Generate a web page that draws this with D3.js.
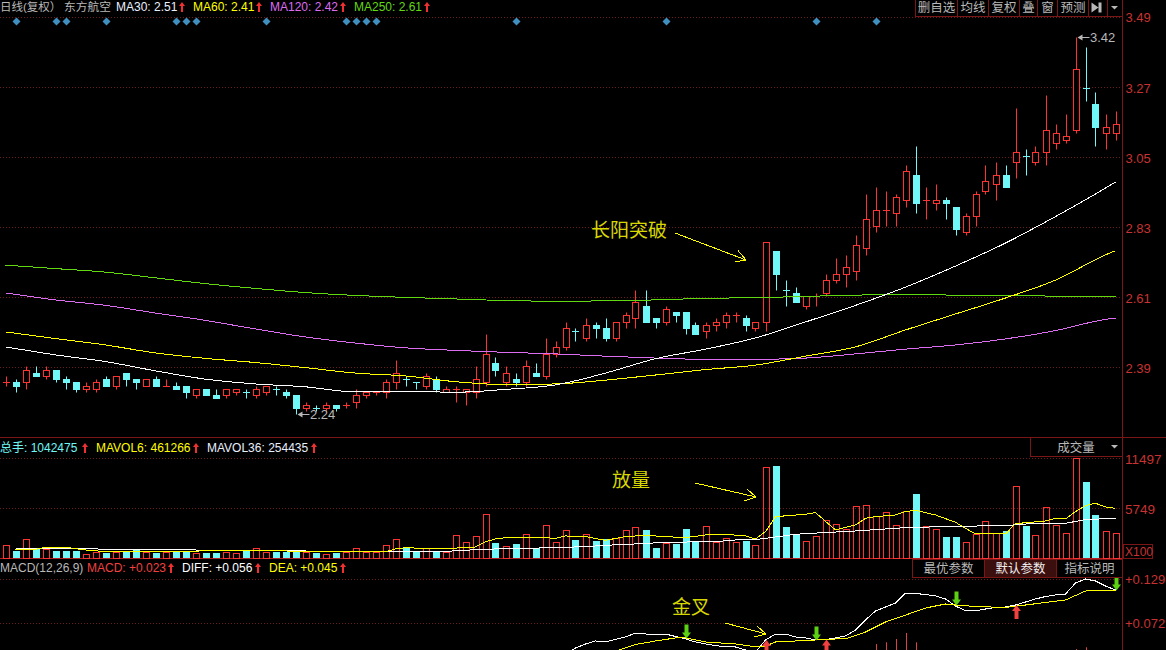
<!DOCTYPE html>
<html><head><meta charset="utf-8">
<script src="https://cdn.jsdelivr.net/npm/d3@7"></script>
<style>
html,body{margin:0;padding:0;background:#000;overflow:hidden}
svg{display:block}
text{font-family:"Liberation Sans","Noto Sans CJK SC",sans-serif}
</style></head><body>
<script>
const open=[2.34,2.34,2.34,2.37,2.36,2.38,2.35,2.34,2.32,2.32,2.35,2.33,2.37,2.35,2.33,2.35,2.33,2.33,2.33,2.30,2.32,2.30,2.30,2.31,2.31,2.30,2.31,2.32,2.31,2.30,2.26,2.26,2.26,2.27,2.27,2.28,2.30,2.31,2.31,2.34,2.35,2.34,2.33,2.35,2.31,2.32,2.31,2.31,2.34,2.40,2.34,2.35,2.34,2.37,2.36,2.43,2.45,2.50,2.48,2.52,2.51,2.48,2.53,2.54,2.58,2.54,2.53,2.56,2.56,2.52,2.50,2.52,2.53,2.55,2.54,2.51,2.53,2.75,2.63,2.62,2.58,2.61,2.62,2.66,2.68,2.69,2.76,2.83,2.88,2.87,2.91,2.99,2.91,2.90,2.91,2.89,2.81,2.86,2.94,2.96,2.99,3.03,3.05,3.03,3.06,3.09,3.10,3.13,3.26,3.21,3.12,3.12];
const close=[2.34,2.33,2.38,2.36,2.38,2.35,2.34,2.32,2.33,2.34,2.33,2.36,2.35,2.34,2.35,2.33,2.33,2.32,2.31,2.32,2.30,2.29,2.32,2.32,2.31,2.32,2.33,2.32,2.30,2.26,2.27,2.26,2.27,2.26,2.27,2.30,2.31,2.31,2.34,2.37,2.35,2.34,2.36,2.32,2.32,2.32,2.32,2.35,2.43,2.38,2.37,2.34,2.39,2.36,2.43,2.45,2.51,2.50,2.52,2.51,2.48,2.53,2.55,2.59,2.53,2.53,2.57,2.55,2.51,2.49,2.52,2.53,2.55,2.55,2.52,2.53,2.78,2.68,2.63,2.59,2.61,2.61,2.66,2.68,2.70,2.77,2.85,2.88,2.88,2.92,3.00,2.90,2.91,2.91,2.90,2.82,2.86,2.93,2.97,2.99,2.95,3.06,3.05,3.06,3.13,3.12,3.11,3.32,3.26,3.14,3.14,3.15];
const high=[2.36,2.35,2.39,2.39,2.39,2.38,2.36,2.34,2.34,2.35,2.36,2.36,2.37,2.35,2.35,2.36,2.35,2.34,2.33,2.32,2.32,2.32,2.32,2.32,2.32,2.33,2.33,2.33,2.32,2.30,2.28,2.27,2.28,2.27,2.28,2.32,2.31,2.31,2.35,2.41,2.36,2.34,2.37,2.36,2.33,2.33,2.32,2.39,2.49,2.42,2.39,2.37,2.41,2.40,2.48,2.47,2.53,2.51,2.54,2.53,2.54,2.53,2.56,2.63,2.63,2.54,2.58,2.56,2.56,2.53,2.53,2.54,2.56,2.56,2.55,2.53,2.78,2.75,2.66,2.64,2.61,2.62,2.68,2.73,2.74,2.80,2.93,2.95,2.94,2.93,3.02,3.08,2.95,2.96,2.92,2.89,2.87,2.94,3.02,3.03,3.02,3.20,3.07,3.08,3.24,3.15,3.18,3.42,3.39,3.25,3.18,3.19];
const low=[2.33,2.31,2.32,2.36,2.35,2.34,2.32,2.31,2.31,2.31,2.33,2.32,2.33,2.32,2.33,2.33,2.33,2.32,2.29,2.29,2.30,2.29,2.29,2.30,2.29,2.29,2.30,2.30,2.29,2.24,2.25,2.25,2.25,2.25,2.26,2.26,2.29,2.30,2.29,2.32,2.33,2.32,2.32,2.31,2.31,2.28,2.27,2.29,2.33,2.36,2.33,2.33,2.33,2.36,2.35,2.42,2.44,2.47,2.47,2.48,2.47,2.47,2.51,2.51,2.53,2.51,2.52,2.53,2.49,2.49,2.48,2.50,2.51,2.53,2.50,2.50,2.50,2.63,2.58,2.59,2.57,2.58,2.61,2.65,2.64,2.66,2.74,2.81,2.83,2.83,2.89,2.87,2.85,2.88,2.85,2.80,2.80,2.83,2.93,2.91,2.95,2.98,2.99,3.02,3.02,3.07,3.09,3.12,3.22,3.08,3.07,3.10];
const flatDownDays=[24,27,31,40,41,57,78,102,108];
const volume=[1495,840,2185,1070,1035,805,805,805,540,690,655,725,840,1000,770,610,770,770,770,610,610,610,770,575,885,1150,770,770,770,885,770,610,540,610,690,1150,690,690,1495,2185,1230,770,1230,770,690,2645,1840,2530,5060,1760,1380,1645,2760,1230,3795,1840,3220,2105,2760,1990,2220,2300,3220,3565,3255,1185,1725,1645,3370,1990,3680,1840,2300,1840,1990,1495,10465,10615,3600,2680,1955,2530,4370,3910,3335,5980,6095,4830,5290,3795,5405,7395,3680,3335,2450,2450,1840,2760,4255,2875,3140,8280,3715,2645,5865,3795,2875,11497,8775,4980,3105,2875];

const maSampleIdx=[0,5,10,15,20,25,30,35,40,45,50,55,60,65,70,75,80,85,90,95,100,105,110,111];
const ma30=[2.451,2.426,2.405,2.376,2.350,2.335,2.326,2.310,2.312,2.309,2.318,2.332,2.369,2.414,2.444,2.479,2.529,2.581,2.638,2.704,2.776,2.859,2.948,2.967];
const ma60=[2.498,2.477,2.457,2.432,2.415,2.402,2.386,2.369,2.360,2.342,2.333,2.335,2.347,2.363,2.380,2.394,2.422,2.451,2.504,2.554,2.604,2.660,2.739,2.752];
const ma120=[2.620,2.598,2.581,2.557,2.534,2.507,2.482,2.463,2.448,2.440,2.434,2.429,2.422,2.416,2.412,2.412,2.416,2.429,2.444,2.457,2.476,2.502,2.537,2.541];
const ma250=[2.707,2.696,2.685,2.667,2.649,2.634,2.621,2.612,2.606,2.601,2.596,2.594,2.595,2.598,2.603,2.605,2.609,2.613,2.615,2.613,2.612,2.610,2.610,2.610];

const mavol6Idx=[1,3,4,6,8,10,20,28,30,38,39,40,43,46,47,48,49,50,53,55,56,58,60,62,64,66,68,70,72,74,75,76,77,80,81,83,85,86,87,89,90,91,93,95,96,97,99,100,101,104,105,106,107,108,109,110,111];
const mavol6=[958,1035,1265,1265,958,767,843,843,767,767,1073,1227,1073,1227,1303,1917,2223,2376,2415,2300,2568,2491,2070,2491,2645,2491,2376,2683,2760,2568,2223,3066,4791,5060,5251,3258,3833,4600,4791,4983,5366,5520,4983,4140,3450,2798,2798,2798,3986,4293,4600,4523,5366,6056,6324,5903,5750];
const mavol36Idx=[1,9,10,19,20,30,31,44,45,49,52,55,58,60,63,66,71,73,75,76,77,79,80,85,90,95,100,103,106,108,111];
const mavol36=[1112,1112,958,958,843,843,767,767,882,1073,1150,1227,1342,1495,1648,1840,1917,2108,2146,2300,2453,2760,2836,3143,3526,3680,3756,4025,4025,4446,4600];

const diffIdx=[55,57,58,59,60,62,63,65,66,68,69,70,72,73,74,75,76,77,78,79,80,81,82,83,84,85,86,87,88,89,90,91,92,93,94,95,96,97,98,99,100,101,102,103,104,105,106,107,108,109,110,111];
const diff=[.0245,.0400,.0452,.0491,.0478,.0543,.0594,.0569,.0581,.0517,.0478,.0452,.0413,.0413,.0374,.0349,.0504,.0581,.0581,.0543,.0530,.0504,.0510,.0530,.0556,.0633,.0763,.0879,.0931,.0983,.1112,.1106,.1093,.1074,.1035,.0944,.0883,.0883,.0905,.0925,.0931,.0957,.0996,.1035,.1067,.1087,.1099,.1242,.1294,.1268,.1203,.1151];
const deaIdx=[60,61,63,65,67,68,70,73,75,76,77,79,81,83,84,86,88,90,92,94,95,97,100,102,106,108,111];
const dea=[.0335,.0361,.0445,.0491,.0530,.0530,.0478,.0452,.0417,.0426,.0478,.0491,.0504,.0517,.0517,.0607,.0737,.0827,.0918,.0970,.0957,.0938,.0925,.0957,.1022,.1138,.1151];
const histIdx=[87,88,89,90,91,107,108];
const hist=[.0452,.0474,.0517,.0595,.0474,.0387,.0409];
const sellSignalIdx=[68,81,95,111];
const sellSignalValue=[.0530,.0504,.0957,.1151];
const buySignalIdx=[76,82,101];
const buySignalValue=[.0504,.0510,.0957];
const markerIdx=[1,5,6,10,17,18,19,26,34,35,36,37,51,66,81,87];

const priceTickValues=[3.483,3.263,3.044,2.825,2.606,2.387];
const priceTickLabels=["3.49","3.27","3.05","2.83","2.61","2.39"];
const volTickValues=[11497,5749];
const volTickLabels=["11497","5749"];
const macdTickValues=[0.129,0.072];
const macdTickLabels=["+0.129","+0.072"];
const topButtons=["删自选","均线","复权","叠","窗","预测"];
const topButtonEdges=[915.5,957.5,988.5,1019.5,1037.5,1057.5,1088.5];
const macdButtons=["最优参数","默认参数","指标说明"];
const macdButtonEdges=[912.5,984.5,1056.5,1122.5];

const W=1166,H=650;
const RED="#ff3232",CYAN="#70f8f8",YEL="#ffff00",MAG="#dc6cf0",GRN="#62d810",GRID="#6a1c1c",AXIS="#7a1616",LBL="#c83232",GRY="#b8b8b8";
const svg=d3.select("body").append("svg").attr("width",W).attr("height",H).style("background","#000");
svg.append("defs").append("clipPath").attr("id","macdClip").append("rect").attr("x",0).attr("y",559).attr("width",1122).attr("height",91);

const n=open.length;
const x=d3.scaleLinear().domain([0,n-1]).range([5.5,1115.5]);
const y=d3.scaleLinear().domain([2.24,3.42]).range([414.3,37.3]);
const yv=d3.scaleLinear().domain([0,11497]).range([558.3,458.3]);
const ym=d3.scaleLinear().domain([0.072,0.129]).range([623.3,579.3]);
const px=v=>Math.round(v)+.5;
const isUp=i=>close[i]>open[i]||(close[i]===open[i]&&!flatDownDays.includes(i));
const idx=d3.range(n);

// grids
function grid(vals,scale){
  svg.append("g").selectAll("line").data(vals).join("line")
    .attr("x1",0).attr("x2",1122).attr("y1",d=>px(scale(d))).attr("y2",d=>px(scale(d)))
    .attr("stroke",GRID).attr("stroke-dasharray","1,2");
}
grid(priceTickValues,y);grid(volTickValues,yv);grid(macdTickValues,ym);

// frame
const hline=(yy,x2,c)=>svg.append("line").attr("x1",0).attr("x2",x2).attr("y1",yy).attr("y2",yy).attr("stroke",c);
hline(437.5,1166,AXIS);
hline(558.5,1122,"#b02020");
svg.append("line").attr("x1",1122.5).attr("x2",1122.5).attr("y1",0).attr("y2",650).attr("stroke",AXIS);

// axes
function axis(scale,vals,labels,size,dx){
  const g=svg.append("g").attr("transform",`translate(${dx},0)`)
    .call(d3.axisRight(scale).tickValues(vals).tickSize(0).tickFormat((d,i)=>labels[i]));
  g.select(".domain").remove();
  g.selectAll("text").attr("fill",LBL).attr("font-size",size).attr("x",0).attr("dy","0.36em")
    .style("font-family",'"Liberation Sans",sans-serif');
}
axis(y,priceTickValues,priceTickLabels,13,1125.5);
axis(yv,volTickValues,volTickLabels,13.5,1125);
axis(ym,macdTickValues,macdTickLabels,13,1125);

// candles
const cg=svg.append("g");
idx.forEach(i=>{
  const c=isUp(i)?RED:CYAN, cx=px(x(i));
  const t=px(y(Math.max(open[i],close[i]))), b=px(y(Math.min(open[i],close[i])));
  cg.append("line").attr("x1",cx).attr("x2",cx).attr("y1",px(y(high[i]))).attr("y2",t).attr("stroke",c);
  cg.append("line").attr("x1",cx).attr("x2",cx).attr("y1",b).attr("y2",px(y(low[i]))).attr("stroke",c);
  if(t===b){cg.append("line").attr("x1",cx-3.5).attr("x2",cx+3.5).attr("y1",t).attr("y2",t).attr("stroke",c);}
  else cg.append("rect").attr("x",cx-3).attr("width",6).attr("y",t).attr("height",b-t)
    .attr("fill",isUp(i)?"#000":CYAN).attr("stroke",c);
});

// moving averages
const maLine=d3.line().x((d,i)=>x(maSampleIdx[i])).y(d=>y(d)).curve(d3.curveMonotoneX);
[[ma120,MAG],[ma250,GRN],[ma60,YEL],[ma30,"#ffffff"]].forEach(([a,c])=>{
  svg.append("path").attr("d",maLine(a)).attr("fill","none").attr("stroke",c).attr("shape-rendering","crispEdges");
});

// high / low notes
const hiI=d3.maxIndex(high), loI=d3.minIndex(low);
function note(i,v){
  const cx=px(x(i)), cy=y(v)|0;
  svg.append("path").attr("d",`M${cx+1} ${cy+.5}l5 -3v6z`).attr("fill",GRY);
  svg.append("line").attr("x1",cx+5).attr("x2",cx+13).attr("y1",cy+.5).attr("y2",cy+.5).attr("stroke",GRY);
  svg.append("text").attr("x",cx+13.5).attr("y",cy+5).attr("fill",GRY).attr("font-size",13).text(v.toFixed(2));
}
note(hiI,high[hiI]);note(loI,low[loI]);

// markers
svg.append("g").selectAll("path").data(markerIdx).join("path")
  .attr("d",d=>{const c=x(d)+1;return `M${c} 17.5l4 4l-4 4l-4 -4z`;}).attr("fill","#3f8fc0");

// volume
const vg=svg.append("g");
idx.forEach(i=>{
  const cx=px(x(i)), t=px(yv(volume[i]));
  if(isUp(i)) vg.append("rect").attr("x",cx-3).attr("width",6).attr("y",t).attr("height",558.5-t).attr("fill","none").attr("stroke",RED);
  else vg.append("rect").attr("x",cx-3.5).attr("width",7).attr("y",t-.5).attr("height",558.5-t).attr("fill",CYAN);
});
const volLine=(ids,vals,c)=>svg.append("path")
  .attr("d",d3.line().x((d,i)=>x(ids[i])).y(d=>yv(d))(vals)).attr("fill","none").attr("stroke",c).attr("shape-rendering","crispEdges");
volLine(mavol36Idx,mavol36,"#ffffff");
volLine(mavol6Idx,mavol6,YEL);

// macd
const mg=svg.append("g").attr("clip-path","url(#macdClip)");
mg.selectAll("line").data(histIdx).join("line")
  .attr("x1",d=>px(x(d))).attr("x2",d=>px(x(d))).attr("y1",(d,i)=>ym(hist[i])).attr("y2",650).attr("stroke","#e04040");
const macdLine=(ids,vals,c)=>mg.append("path")
  .attr("d",d3.line().x((d,i)=>x(ids[i])).y(d=>ym(d))(vals)).attr("fill","none").attr("stroke",c).attr("shape-rendering","crispEdges");
macdLine(diffIdx,diff,"#ffffff");
macdLine(deaIdx,dea,YEL);
mg.selectAll(".sell").data(sellSignalIdx).join("path").attr("class","sell")
  .attr("d",(d,i)=>{const c=px(x(d)),t=ym(sellSignalValue[i]);return `M${c} ${t+.5}l-4.5 -6h2.5v-8h4v8h2.5z`;}).attr("fill","#5cd012");
mg.selectAll(".buy").data(buySignalIdx).join("path").attr("class","buy")
  .attr("d",(d,i)=>{const c=px(x(d)),t=ym(buySignalValue[i]);return `M${c} ${t}l4.5 6h-2.5v8h-4v-8h-2.5z`;}).attr("fill","#f04040");

// top buttons
const tb=svg.append("g");
tb.append("rect").attr("x",915.5).attr("y",-1).attr("width",207).attr("height",17.5).attr("fill","none").attr("stroke",AXIS);
topButtonEdges.concat([1107.5]).forEach(e=>tb.append("line").attr("x1",e).attr("x2",e).attr("y1",0).attr("y2",16).attr("stroke",AXIS));
topButtons.forEach((t,i)=>tb.append("text").attr("x",(topButtonEdges[i]+topButtonEdges[i+1])/2).attr("y",12)
  .attr("text-anchor","middle").attr("fill",GRY).attr("font-size",12.5).text(t));
tb.append("path").attr("d","M1091.5 2.5l7 5l-7 5z M1098.5 2.5h3v10h-3z").attr("fill",GRY);
tb.append("path").attr("d","M1111 6h7l-3.5 3.5z").attr("fill",GRY);

// volume selector
svg.append("rect").attr("x",1030.5).attr("y",437.5).attr("width",92).attr("height",19).attr("fill","#000").attr("stroke",AXIS);
svg.append("text").attr("x",1076).attr("y",452).attr("text-anchor","middle").attr("fill",GRY).attr("font-size",12.5).text("成交量");
svg.append("path").attr("d","M1111 445h7l-3.5 3.5z").attr("fill",GRY);
svg.append("rect").attr("x",1123.5).attr("y",544.5).attr("width",29).attr("height",14).attr("fill","none").attr("stroke",AXIS);
svg.append("text").attr("x",1125).attr("y",556).attr("fill",LBL).attr("font-size",12).text("X100");

// macd buttons
macdButtons.forEach((t,i)=>{
  const a=macdButtonEdges[i],b=macdButtonEdges[i+1];
  svg.append("rect").attr("x",a).attr("y",559.5).attr("width",b-a).attr("height",18)
    .attr("fill",i===1?"#3c0f0f":"#000").attr("stroke",AXIS);
  svg.append("text").attr("x",(a+b)/2).attr("y",573).attr("text-anchor","middle")
    .attr("fill",i===1?"#f0f0f0":GRY).attr("font-size",12.5).text(t);
});

// header text
const tx=(s,xx,yy,c,fs=12)=>svg.append("text").attr("x",xx).attr("y",yy).attr("fill",c).attr("font-size",fs).text(s);
const upArrow=(xx,yy)=>svg.append("path").attr("d",`M${xx} ${yy}l3 4h-2v6h-2v-6h-2z`).attr("fill","#f03030");
tx("日线(复权）",0,11,GRY,11.5);tx("东方航空",64,11,GRY,11.75);
tx("MA30: 2.51",116,11,"#e8f0ff");upArrow(182,2);
tx("MA60: 2.41",193,11,YEL);upArrow(259,2);
tx("MA120: 2.42",270,11,MAG);upArrow(343,2);
tx("MA250: 2.61",354,11,GRN);upArrow(427,2);
tx("总手: 1042475",0,452,CYAN);upArrow(85,443);
tx("MAVOL6: 461266",96,452,YEL);upArrow(196,443);
tx("MAVOL36: 254435",207,452,"#e8f0ff");upArrow(314,443);
tx("MACD(12,26,9)",0,572,GRY);
tx("MACD: +0.023",87,572,"#f04040");upArrow(171,563);
tx("DIFF: +0.056",182,572,"#ffffff");upArrow(258,563);
tx("DEA: +0.045",269,572,YEL);upArrow(343,563);

// hand annotations
const AN="#d8d800";
tx("长阳突破",591,237,AN,19);
tx("放量",612,487,AN,19);
tx("金叉",672,614,AN,19);
function hand(x1,y1,x2,y2,ax,ay,bx,by){
  svg.append("path").attr("d",`M${x1} ${y1}L${x2} ${y2}M${ax} ${ay}L${x2} ${y2}L${bx} ${by}`)
    .attr("fill","none").attr("stroke",YEL).attr("shape-rendering","crispEdges");
}
hand(675,233,746,260,738,250.5,735,262);
hand(695,483,756,497,747,489,744,501);
hand(725,623,766,634,757,626,754,637);
</script>
</body></html>
